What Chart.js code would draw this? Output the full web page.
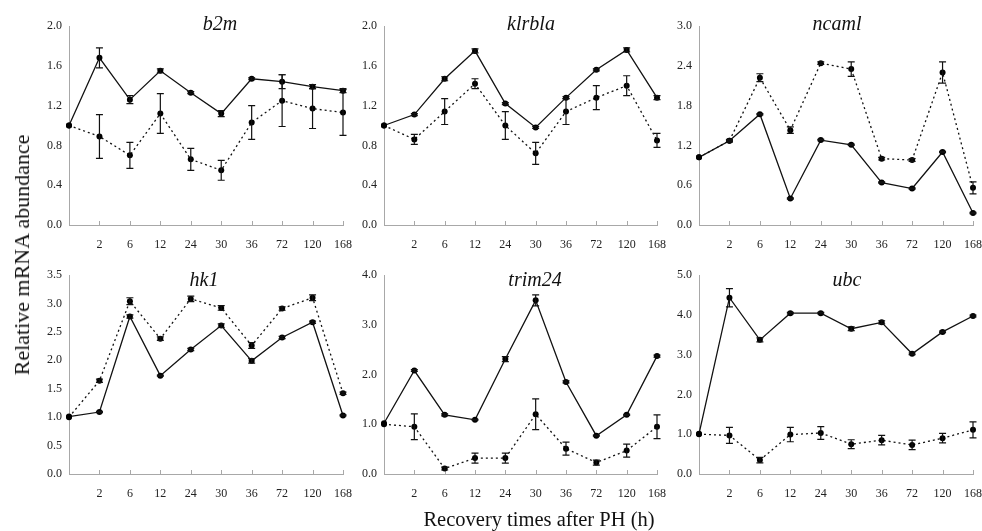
<!DOCTYPE html>
<html>
<head>
<meta charset="utf-8">
<script src="https://cdn.jsdelivr.net/npm/chart.js@4.4.1/dist/chart.umd.min.js"></script>
<style>
  html, body { margin: 0; padding: 0; background: #fff; }
  body { width: 982px; height: 531px; position: relative; overflow: hidden; font-family: "Liberation Serif", "DejaVu Serif", serif; }
  canvas { position: absolute; }
  .ttl { position: absolute; transform: translate(-50%, -50%); font-style: italic; font-size: 20px; color: #111; white-space: nowrap; }
  .axt { position: absolute; transform: translate(-50%, -50%); color: #111; white-space: nowrap; }
</style>
</head>
<body>
<script>
// ---- data ----
const timeLabels = ['', '2', '6', '12', '24', '30', '36', '72', '120', '168'];

const b2mSolid       = [1.00, 1.68, 1.26, 1.55, 1.33, 1.12, 1.47, 1.44, 1.39, 1.35];
const b2mSolidErr    = [0, 0.10, 0.04, 0.02, 0.01, 0.03, 0.01, 0.07, 0.02, 0.02];
const b2mDotted      = [1.00, 0.89, 0.70, 1.12, 0.66, 0.55, 1.03, 1.25, 1.17, 1.13];
const b2mDottedErr   = [0, 0.22, 0.13, 0.20, 0.11, 0.10, 0.17, 0.26, 0.20, 0.23];

const klrblaSolid     = [1.00, 1.11, 1.47, 1.75, 1.22, 0.98, 1.28, 1.56, 1.76, 1.28];
const klrblaSolidErr  = [0, 0.01, 0.02, 0.02, 0.01, 0.01, 0.01, 0.01, 0.02, 0.02];
const klrblaDotted    = [1.00, 0.86, 1.14, 1.42, 1.00, 0.72, 1.14, 1.28, 1.40, 0.85];
const klrblaDottedErr = [0, 0.05, 0.13, 0.05, 0.14, 0.11, 0.13, 0.12, 0.10, 0.07];

const ncamlSolid      = [1.02, 1.27, 1.67, 0.40, 1.28, 1.21, 0.64, 0.55, 1.10, 0.18];
const ncamlSolidErr   = [0, 0.01, 0.01, 0.01, 0.01, 0.01, 0.01, 0.01, 0.01, 0.01];
const ncamlDotted     = [1.02, 1.27, 2.22, 1.43, 2.44, 2.35, 1.00, 0.98, 2.30, 0.56];
const ncamlDottedErr  = [0, 0.02, 0.06, 0.05, 0.02, 0.11, 0.02, 0.02, 0.16, 0.09];

const hk1Solid        = [1.01, 1.09, 2.77, 1.73, 2.19, 2.61, 1.99, 2.40, 2.67, 1.03];
const hk1SolidErr     = [0, 0.01, 0.03, 0.01, 0.02, 0.03, 0.04, 0.02, 0.02, 0.01];
const hk1Dotted       = [1.00, 1.64, 3.04, 2.38, 3.08, 2.92, 2.26, 2.91, 3.10, 1.42];
const hk1DottedErr    = [0, 0.03, 0.06, 0.03, 0.05, 0.04, 0.05, 0.03, 0.05, 0.02];

const trim24Solid     = [1.02, 2.08, 1.19, 1.09, 2.31, 3.49, 1.85, 0.77, 1.19, 2.37];
const trim24SolidErr  = [0, 0.02, 0.02, 0.01, 0.05, 0.11, 0.02, 0.01, 0.01, 0.02];
const trim24Dotted    = [1.00, 0.95, 0.11, 0.32, 0.32, 1.20, 0.51, 0.23, 0.47, 0.95];
const trim24DottedErr = [0, 0.26, 0.03, 0.10, 0.10, 0.31, 0.13, 0.05, 0.13, 0.24];

const ubcSolid        = [1.01, 4.43, 3.37, 4.04, 4.04, 3.65, 3.81, 3.02, 3.57, 3.97];
const ubcSolidErr     = [0, 0.23, 0.05, 0.02, 0.02, 0.05, 0.04, 0.02, 0.02, 0.02];
const ubcDotted       = [1.00, 0.97, 0.35, 0.99, 1.03, 0.75, 0.85, 0.73, 0.90, 1.11];
const ubcDottedErr    = [0, 0.20, 0.07, 0.18, 0.16, 0.11, 0.12, 0.12, 0.12, 0.20];

const geneNames = ['b2m', 'klrbla', 'ncaml', 'hk1', 'trim24', 'ubc'];
const yMaxes    = [2.0, 2.0, 3.0, 3.5, 4.0, 5.0];
const ySteps    = [0.4, 0.4, 0.6, 0.5, 1.0, 1.0];
const solidSeries  = [b2mSolid, klrblaSolid, ncamlSolid, hk1Solid, trim24Solid, ubcSolid];
const solidErrs    = [b2mSolidErr, klrblaSolidErr, ncamlSolidErr, hk1SolidErr, trim24SolidErr, ubcSolidErr];
const dottedSeries = [b2mDotted, klrblaDotted, ncamlDotted, hk1Dotted, trim24Dotted, ubcDotted];
const dottedErrs   = [b2mDottedErr, klrblaDottedErr, ncamlDottedErr, hk1DottedErr, trim24DottedErr, ubcDottedErr];

const yAxisTitle = 'Relative mRNA abundance';
const xAxisTitle = 'Recovery times after PH (h)';

// ---- layout (plot areas in page pixels) ----
const colL = [69, 384, 699];
const colR = [343, 657, 973];
const rowT = [26, 275];
const rowB = [225, 474];
const titlePos = [[220, 23], [531, 23], [837, 23], [204, 279], [535, 279], [847, 279]];

const PADL = 50, PADT = 14, PADR = 24, XAXH = 34;
const AXIS_COLOR = '#a8a8a8';

const errorBarPlugin = {
  id: 'errorBars',
  afterDatasetsDraw(chart) {
    const ctx = chart.ctx;
    const ys = chart.scales.y;
    chart.data.datasets.forEach((ds, i) => {
      const meta = chart.getDatasetMeta(i);
      const errs = ds.errors || [];
      ctx.save();
      ctx.strokeStyle = '#111';
      ctx.lineWidth = 1.2;
      ctx.setLineDash([]);
      meta.data.forEach((pt, j) => {
        const e = errs[j];
        if (!e) return;
        const v = ds.data[j];
        const yt = ys.getPixelForValue(v + e);
        const yb = ys.getPixelForValue(v - e);
        const x = pt.x;
        ctx.beginPath();
        ctx.moveTo(x, yt); ctx.lineTo(x, yb);
        ctx.moveTo(x - 3.5, yt); ctx.lineTo(x + 3.5, yt);
        ctx.moveTo(x - 3.5, yb); ctx.lineTo(x + 3.5, yb);
        ctx.stroke();
      });
      ctx.restore();
    });
  }
};

const innerTicksPlugin = {
  id: 'innerTicks',
  beforeDatasetsDraw(chart) {
    const ctx = chart.ctx;
    const xs = chart.scales.x;
    const yb = chart.chartArea.bottom;
    ctx.save();
    ctx.strokeStyle = AXIS_COLOR;
    ctx.lineWidth = 1;
    for (let i = 1; i < xs.ticks.length; i++) {
      const x = Math.round(xs.getPixelForTick(i)) + 0.5;
      ctx.beginPath();
      ctx.moveTo(x, yb);
      ctx.lineTo(x, yb - 4);
      ctx.stroke();
    }
    ctx.restore();
  }
};

function zeroPad(s) { s.paddingTop = 0; s.paddingBottom = 0; s.paddingLeft = 0; s.paddingRight = 0; }

for (let k = 0; k < 6; k++) {
  const col = k % 3, row = Math.floor(k / 3);
  const L = colL[col], R = colR[col], T = rowT[row], B = rowB[row];
  const cv = document.createElement('canvas');
  const w = (R - L) + PADL + PADR, h = (B - T) + PADT + XAXH;
  cv.width = w; cv.height = h;
  cv.style.left = (L - PADL) + 'px';
  cv.style.top = (T - PADT) + 'px';
  cv.style.width = w + 'px'; cv.style.height = h + 'px';
  document.body.appendChild(cv);

  new Chart(cv, {
    type: 'line',
    data: {
      labels: timeLabels,
      datasets: [
        {
          data: solidSeries[k], errors: solidErrs[k],
          borderColor: '#111', backgroundColor: '#111', borderWidth: 1.3,
          pointRadius: 3, pointBackgroundColor: '#000', pointBorderWidth: 0,
          tension: 0, fill: false
        },
        {
          data: dottedSeries[k], errors: dottedErrs[k],
          borderColor: '#111', backgroundColor: '#111', borderWidth: 1.3, borderDash: [2, 3],
          pointRadius: 3, pointBackgroundColor: '#000', pointBorderWidth: 0,
          tension: 0, fill: false
        }
      ]
    },
    options: {
      responsive: false,
      animation: false,
      devicePixelRatio: 1,
      layout: { padding: { left: 0, top: PADT, right: PADR, bottom: 0 } },
      plugins: { legend: { display: false }, tooltip: { enabled: false }, title: { display: false } },
      scales: {
        x: {
          type: 'category',
          offset: false,
          grid: { display: false, drawTicks: false },
          border: { display: true, color: AXIS_COLOR, width: 1 },
          ticks: { autoSkip: false, maxRotation: 0, padding: 13, color: '#222',
                   font: { family: 'Liberation Serif', size: 12 } },
          afterFit(s) { s.height = XAXH; zeroPad(s); }
        },
        y: {
          min: 0, max: yMaxes[k],
          grid: { display: false, drawTicks: false },
          border: { display: true, color: AXIS_COLOR, width: 1 },
          ticks: { stepSize: ySteps[k], padding: 7, color: '#222',
                   font: { family: 'Liberation Serif', size: 12 },
                   callback: v => Number(v).toFixed(1) },
          afterFit(s) { s.width = PADL; zeroPad(s); }
        }
      }
    },
    plugins: [innerTicksPlugin, errorBarPlugin]
  });

  const t = document.createElement('div');
  t.className = 'ttl';
  t.textContent = geneNames[k];
  t.style.left = titlePos[k][0] + 'px';
  t.style.top = titlePos[k][1] + 'px';
  document.body.appendChild(t);
}

const yt = document.createElement('div');
yt.className = 'axt';
yt.textContent = yAxisTitle;
yt.style.fontSize = '22px';
yt.style.left = '22px';
yt.style.top = '255px';
yt.style.transform = 'translate(-50%, -50%) rotate(-90deg)';
document.body.appendChild(yt);

const xt = document.createElement('div');
xt.className = 'axt';
xt.textContent = xAxisTitle;
xt.style.fontSize = '20.5px';
xt.style.left = '539px';
xt.style.top = '519px';
document.body.appendChild(xt);
</script>
</body>
</html>
